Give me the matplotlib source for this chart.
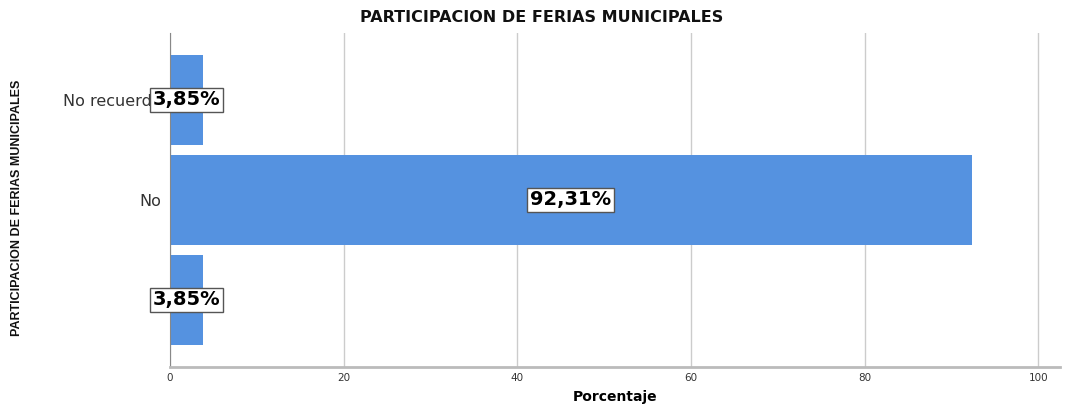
import matplotlib
matplotlib.use('Agg')
import matplotlib.pyplot as plt

plt.rcParams['font.family'] = ['DejaVu Sans']

categorias = ['No recuerdo', 'No', '']
porcentajes = [3.85, 92.31, 3.85]
etiquetas = ['3,85%', '92,31%', '3,85%']
ticks_x = [0, 20, 40, 60, 80, 100]

fig = plt.figure(figsize=(10.67, 4.08), dpi=100)
ax = fig.add_axes([170 / 1067, 41 / 408, 890 / 1067, 334 / 408])

pos = list(range(len(categorias)))
ax.barh(pos, porcentajes, height=0.9, color='#5592e0', zorder=2)
for p, v, t in zip(pos, porcentajes, etiquetas):
    ax.text(v / 2, p, t, ha='center', va='center', fontsize=14, fontweight='bold',
            zorder=4, bbox=dict(boxstyle='square,pad=0.15', fc='white', ec='#555555', lw=1))

ax.set_ylim(2.67, -0.67)
ax.set_xlim(0, 102.5)
ax.set_yticks(pos)
ax.set_yticklabels(categorias, fontsize=11.5, color='#333333')
ax.set_xticks(ticks_x)
ax.set_xticklabels([str(t) for t in ticks_x], fontsize=7.5, color='#333333')
ax.tick_params(axis='y', length=0, pad=6)
ax.tick_params(axis='x', length=0, pad=4)
ax.grid(axis='x', color='#cccccc', lw=1, zorder=0)
for s in ['top', 'right']:
    ax.spines[s].set_visible(False)
ax.spines['left'].set_color('#888888')
ax.spines['bottom'].set_color('#bbbbbb')
ax.spines['bottom'].set_linewidth(2)

ax.set_xlabel('Porcentaje', fontsize=10, fontweight='bold', labelpad=5)
fig.text(17 / 1067, 200 / 408, 'PARTICIPACION DE FERIAS MUNICIPALES', rotation=90,
         ha='center', va='center', fontsize=9, fontweight='bold', color='#111111',
         family=['Liberation Sans', 'DejaVu Sans'])
fig.text(0.508, 0.957, 'PARTICIPACION DE FERIAS MUNICIPALES', ha='center', va='center',
         fontsize=11.5, fontweight='bold', color='#111111')

fig.savefig('out.png', dpi=100)
